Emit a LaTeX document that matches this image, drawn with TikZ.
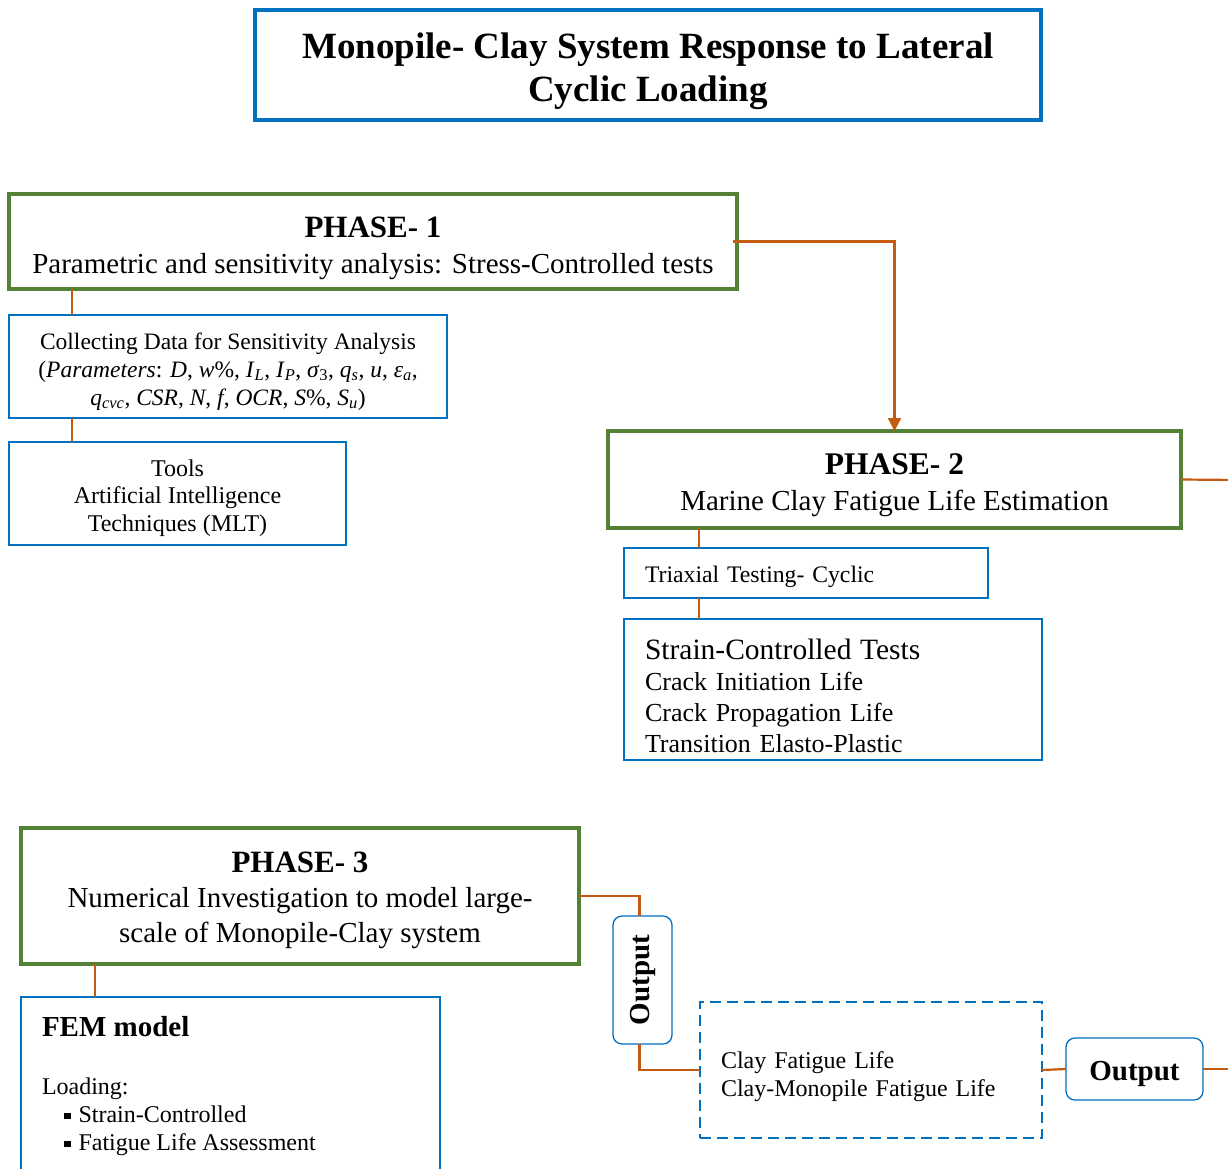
\documentclass[tikz,border=0pt]{standalone}
\usepackage{fontspec}
\setmainfont{Liberation Serif}
\usetikzlibrary{arrows.meta}
\definecolor{cblue}{RGB}{0,112,192}
\definecolor{cgreen}{RGB}{84,130,53}
\definecolor{corange}{RGB}{197,90,17}
\newcommand{\fs}[2]{\fontsize{#1}{#2}\selectfont}
\newcommand{\sqb}{\raisebox{3pt}{\rule{6.5pt}{6.5pt}}\hspace{8pt}}
\newcommand{\myv}[1]{\textit{#1}}
\newcommand{\mys}[2]{\textit{#1}\textsubscript{\textit{#2}}}
\newcommand{\up}[1]{\rule{0pt}{#1pt}}
\begin{document}
\begin{tikzpicture}[x=1pt,y=-1pt,
  titlebox/.style={draw=cblue,line width=3.5pt,outer sep=0pt,inner sep=0pt,align=center},
  phasebox/.style={draw=cgreen,line width=3.5pt,outer sep=0pt,inner sep=0pt,align=center},
  subbox/.style={draw=cblue,line width=2pt,outer sep=0pt,inner sep=0pt},
  outbox/.style={draw=cblue,line width=1.3pt,rounded corners=9pt,outer sep=0pt,inner sep=0pt,font=\fs{29}{32}\bfseries},
  dashbox/.style={draw=cblue,line width=2pt,dash pattern=on 11pt off 6pt,outer sep=0pt,inner sep=0pt},
  conn/.style={draw=corange,line width=2.2pt},
  arr/.style={conn,-{Triangle[width=13pt,length=13pt]}}
]
\useasboundingbox (0,0) rectangle (1228,1168);
\clip (0,0) rectangle (1228,1168);
\fill[white] (0,0) rectangle (1228,1168);

% title
\node[titlebox,minimum width=786pt,minimum height=110pt,anchor=north west,font=\fs{37}{43}\bfseries] (title) at (255,10)
  {\up{39}Monopile- Clay System Response to Lateral\\ Cyclic Loading};

% phase 1
\node[phasebox,minimum width=728pt,minimum height=95pt,anchor=north west,font=\fs{29}{36}] (p1) at (9,194)
  {{\fs{31}{36}\bfseries\up{34}PHASE- 1}\\ Parametric and sensitivity analysis: Stress-Controlled tests};
\node[subbox,align=center,minimum width=438pt,minimum height=103pt,anchor=north west,font=\fs{23.5}{28}] (cd) at (9,315)
  {\up{26}Collecting Data for Sensitivity Analysis\\
   (\myv{Parameters}: \myv{D}, \myv{w}\%, \mys{I}{L}, \mys{I}{P}, \myv{σ}\textsubscript{3}, \mys{q}{s}, \myv{u}, \mys{ε}{a},\\
   \mys{q}{cvc}, \myv{CSR}, \myv{N}, \myv{f}, \myv{OCR}, \myv{S}\%, \mys{S}{u})};
\node[subbox,align=center,minimum width=337pt,minimum height=103pt,anchor=north west,font=\fs{24}{27.5}] (tools) at (9,442)
  {\up{26}Tools\\ Artificial Intelligence\\ Techniques (MLT)};

% phase 2
\node[phasebox,minimum width=573pt,minimum height=97pt,anchor=north west,font=\fs{29}{36}] (p2) at (608,431)
  {{\fs{31.5}{36}\bfseries\up{32}PHASE- 2}\\ Marine Clay Fatigue Life Estimation};
\node[subbox,align=left,text width=322pt,inner xsep=21pt,minimum height=50pt,anchor=north west,font=\fs{23.7}{28}] (tri) at (624,548)
  {\up{24.5}Triaxial Testing- Cyclic};
\node[subbox,align=left,text width=376pt,inner xsep=21pt,minimum height=141pt,anchor=north west,font=\fs{26}{31}] (sc) at (624,619)
  {{\fs{29.5}{31}\up{33}Strain-Controlled Tests}\\ Crack Initiation Life\\ Crack Propagation Life\\ Transition Elasto-Plastic};

% phase 3
\node[phasebox,minimum width=558pt,minimum height=136pt,anchor=north west,font=\fs{29}{35}] (p3) at (21,828)
  {{\fs{31}{35}\bfseries\up{29.5}PHASE- 3}\\ Numerical Investigation to model large-\\ scale of Monopile-Clay system};
\node[subbox,anchor=north west,inner xsep=21pt,inner ysep=19pt,align=left] (fem) at (21,997)
  {\begin{minipage}[t][260pt][t]{377pt}
   \fs{29}{30}\bfseries FEM model\par
   \vspace{30pt}
   \fs{24}{28}\mdseries Loading:\par
   \hspace*{22pt}\sqb Strain-Controlled\par
   \hspace*{22pt}\sqb Fatigue Life Assessment\par
   \end{minipage}};

% outputs
\node[outbox,rotate=90,minimum width=128pt,minimum height=59pt] (ov) at (642.5,980) {Output};
\node[dashbox,align=left,text width=300pt,inner xsep=21pt,minimum height=136pt,anchor=north west,font=\fs{24}{28}] (fb) at (700,1002)
  {\up{31}Clay Fatigue Life\\ Clay-Monopile Fatigue Life};
\node[outbox,minimum width=137pt,minimum height=62pt] (or) at (1134.5,1069) {\up{29.5}Output};

\coordinate (r2) at (1240,480);
\coordinate (r3) at (1240,1069);

% connectors
\draw[conn] ([xshift=63pt]p1.south west) -- ([xshift=63pt]cd.north west);
\draw[conn] ([xshift=63pt]cd.south west) -- ([xshift=63pt]tools.north west);
\draw[arr] ([xshift=-4pt]p1.east) -| (p2.north);
\draw[conn] (p2.east) -- (r2);
\draw[conn] ([xshift=91pt]p2.south west) -- ([xshift=75pt]tri.north west);
\draw[conn] ([xshift=75pt]tri.south west) -- ([xshift=75pt]sc.north west);
\draw[conn] ([xshift=74pt]p3.south west) -- ([xshift=74pt]fem.north west);
\draw[conn] (p3.east) -| ([xshift=-3pt]ov.east);
\draw[conn] ([xshift=-3pt]ov.west) |- (fb.west);
\draw[conn] (fb.east) -- (or.west);
\draw[conn] (or.east) -- (r3);
\end{tikzpicture}
\end{document}
